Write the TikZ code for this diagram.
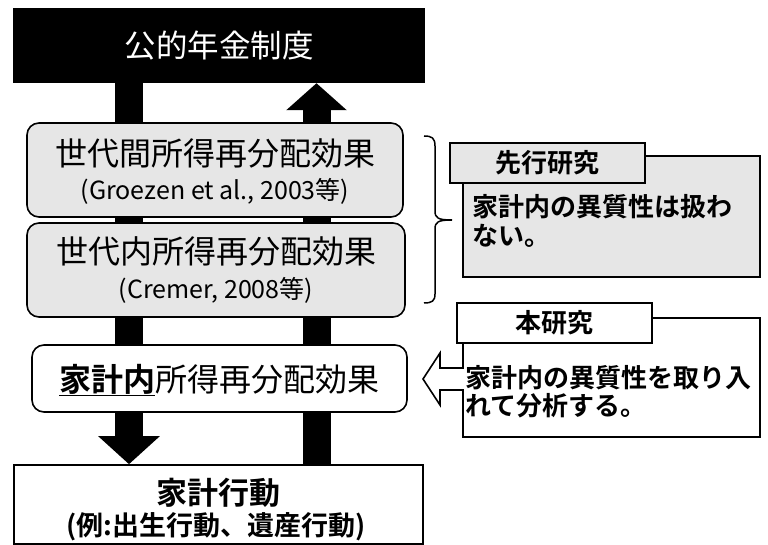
\documentclass[tikz,border=0pt]{standalone}
\usepackage{fontspec}
\setmainfont{Noto Sans CJK JP}[BoldFont={Noto Sans CJK JP Bold}]
\usetikzlibrary{arrows.meta}
\definecolor{boxgray}{RGB}{230,230,230}
\tikzset{
  bigbar/.style={line width=28pt, draw=black},
  gbox/.style={draw=black, line width=1.6pt, fill=boxgray, rounded corners=12pt},
  wbox/.style={draw=black, line width=1.6pt, fill=white, rounded corners=12pt},
  sqbox/.style={draw=black, line width=1.6pt},
  bigtxt/.style={font=\fontsize{32}{36}\selectfont},
  smtxt/.style={font=\fontsize{25}{28}\selectfont},
  notetxt/.style={font=\bfseries\fontsize{26}{28.5}\selectfont, align=left, anchor=west, inner sep=0pt},
}
\begin{document}
\begin{tikzpicture}[x=1pt,y=-1pt]
\useasboundingbox (0,0) rectangle (768,545);
% main nodes
\node[fill=black, minimum width=412pt, minimum height=75pt, inner sep=0pt,
      text=white, font=\fontsize{31.5}{34}\selectfont] (pension) at (219,45.5) {公的年金制度};
\node[sqbox, fill=white, minimum width=409pt, minimum height=79pt, inner sep=0pt] (household) at (218.5,504.5) {};
% thick arrows
\draw[bigbar, -{Triangle[width=60pt,length=28pt]}] ([xshift=-90pt]pension.south) -- ([xshift=-89.5pt]household.north);
\draw[bigbar, -{Triangle[width=59pt,length=27pt]}] ([xshift=98pt]household.north) -- ([xshift=97.5pt]pension.south);
% redistribution boxes
\node[gbox, minimum width=376pt, minimum height=94pt] (inter) at (215,170) {};
\node[bigtxt] (interA) at (215,153) {世代間所得再分配効果};
\node[smtxt] (interB) at (215,191) {(Groezen et al., 2003等)};
\node[gbox, minimum width=378pt, minimum height=94pt] (intra) at (216,270) {};
\node[bigtxt] (intraA) at (216,251) {世代内所得再分配効果};
\node[smtxt] (intraB) at (216,290) {(Cremer, 2008等)};
\node[wbox, minimum width=375pt, minimum height=67pt] (within) at (219.5,378.5) {};
\node[bigtxt] (withinA) at (219,380) {\textbf{\underline{家計内}}所得再分配効果};
% household text
\node[font=\bfseries\fontsize{31}{34}\selectfont] (hhA) at (218,493) {家計行動};
\node[font=\bfseries\fontsize{27}{30}\selectfont] (hhB) at (216,527) {(例:出生行動、遺産行動)};
% brace
\draw[line width=1.5pt]
  (424,136) .. controls (432,136) and (435,138) .. (435,146) -- (435,211)
  .. controls (435,218) and (438,220) .. (452,220)
  .. controls (438,220) and (435,222) .. (435,229) -- (435,294)
  .. controls (435,301) and (432,303) .. (424,303);
% previous research note
\node[sqbox, fill=boxgray, minimum width=297pt, minimum height=121pt, inner sep=0pt] (prevbox) at (611.5,216.5) {};
\node[sqbox, fill=boxgray, minimum width=195pt, minimum height=40pt, inner sep=0pt,
      font=\bfseries\fontsize{26}{30}\selectfont] (prevhead) at (547.5,163) {先行研究};
\node[notetxt] (prevtxt) at (472,221) {家計内の異質性は扱わ\\ない。};
% this research callout
\draw[line width=1.6pt, fill=white, line join=miter]
  (463,318) -- (760,318) -- (760,437) -- (463,437) -- (463,390) -- (440,390)
  -- (440,405) -- (423,379) -- (440,353) -- (440,368) -- (463,368) -- cycle;
\node[sqbox, fill=white, minimum width=195pt, minimum height=40pt, inner sep=0pt,
      font=\bfseries\fontsize{26}{30}\selectfont] (ourhead) at (554.5,323) {本研究};
\node[notetxt] (ourtxt) at (465,391.5) {家計内の異質性を取り入\\れて分析する。};
\end{tikzpicture}
\end{document}
